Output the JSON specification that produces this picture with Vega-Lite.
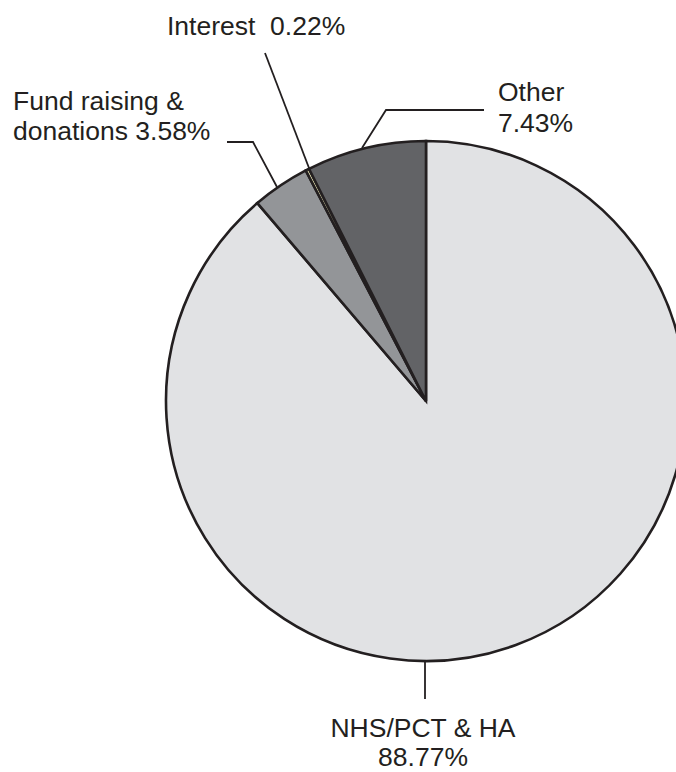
{
  "$schema": "https://vega.github.io/schema/vega-lite/v6.json",
  "width": 852,
  "height": 802,
  "padding": 0,
  "autosize": {"type": "none"},
  "background": "white",
  "config": {"view": {"stroke": null}},
  "datasets": {
    "slices": [
      {"source": "NHS/PCT & HA", "share": 88.77, "idx": 1},
      {"source": "Fund raising & donations", "share": 3.58, "idx": 2},
      {"source": "Interest", "share": 0.22, "idx": 3},
      {"source": "Other", "share": 7.43, "idx": 4}
    ],
    "leaders": [
      {"label": "Interest", "pt": 1, "px": -161, "py": 348},
      {"label": "Interest", "pt": 2, "px": -117, "py": 233},
      {"label": "Fund", "pt": 1, "px": -199, "py": 259},
      {"label": "Fund", "pt": 2, "px": -173, "py": 259},
      {"label": "Fund", "pt": 3, "px": -149, "py": 214},
      {"label": "Other", "pt": 1, "px": 58, "py": 291},
      {"label": "Other", "pt": 2, "px": -40, "py": 291},
      {"label": "Other", "pt": 3, "px": -64, "py": 253},
      {"label": "NHS", "pt": 1, "px": -1, "py": -260},
      {"label": "NHS", "pt": 2, "px": -1, "py": -298}
    ],
    "labels": [
      {"source": "Interest", "text": "Interest\u00a0 0.22%", "px": -259, "py": 366},
      {"source": "Fund", "text": "Fund raising &", "px": -413, "py": 291},
      {"source": "Fund", "text": "donations 3.58%", "px": -413, "py": 261},
      {"source": "Other", "text": "Other", "px": 72, "py": 300},
      {"source": "Other", "text": "7.43%", "px": 72, "py": 269},
      {"source": "NHS", "text": "NHS/PCT & HA", "px": -3, "py": -336},
      {"source": "NHS", "text": "88.77%", "px": -3, "py": -365}
    ]
  },
  "layer": [
    {
      "data": {"name": "slices"},
      "mark": {"type": "arc", "outerRadius": 260, "stroke": "#231f20", "strokeWidth": 2.6},
      "encoding": {
        "theta": {"field": "share", "type": "quantitative", "stack": true},
        "order": {"field": "idx", "type": "quantitative"},
        "color": {
          "field": "source",
          "type": "nominal",
          "scale": {
            "domain": ["NHS/PCT & HA", "Fund raising & donations", "Interest", "Other"],
            "range": ["#e1e2e4", "#939598", "#f7f4c0", "#626366"]
          },
          "legend": null
        }
      }
    },
    {
      "data": {"name": "leaders"},
      "mark": {"type": "line", "stroke": "#231f20", "strokeWidth": 1.8},
      "encoding": {
        "x": {"field": "px", "type": "quantitative", "scale": {"domain": [-426, 426], "nice": false, "zero": false}, "axis": null},
        "y": {"field": "py", "type": "quantitative", "scale": {"domain": [-401, 401], "nice": false, "zero": false}, "axis": null},
        "detail": {"field": "label", "type": "nominal"},
        "order": {"field": "pt", "type": "quantitative"}
      }
    },
    {
      "data": {"name": "labels"},
      "transform": [{"filter": "datum.source !== 'NHS'"}],
      "mark": {"type": "text", "font": "Liberation Sans", "fontSize": 26.5, "fill": "#231f20", "align": "left", "baseline": "alphabetic"},
      "encoding": {
        "x": {"field": "px", "type": "quantitative"},
        "y": {"field": "py", "type": "quantitative"},
        "text": {"field": "text", "type": "nominal"}
      }
    },
    {
      "data": {"name": "labels"},
      "transform": [{"filter": "datum.source === 'NHS'"}],
      "mark": {"type": "text", "font": "Liberation Sans", "fontSize": 26.5, "fill": "#231f20", "align": "center", "baseline": "alphabetic"},
      "encoding": {
        "x": {"field": "px", "type": "quantitative"},
        "y": {"field": "py", "type": "quantitative"},
        "text": {"field": "text", "type": "nominal"}
      }
    }
  ]
}
